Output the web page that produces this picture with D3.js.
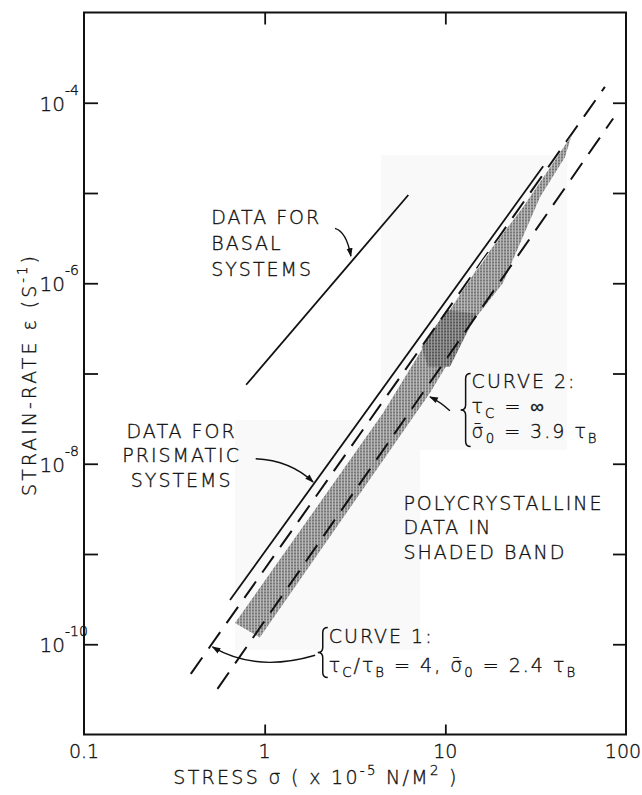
<!DOCTYPE html>
<html>
<head>
<meta charset="utf-8">
<script src="https://cdn.jsdelivr.net/npm/d3@7"></script>
<style>
  body { margin: 0; background: #fff; }
  text { font-family: "DejaVu Sans", sans-serif; font-weight: 300; fill: #111;
         stroke: #111; stroke-width: 0.35px; letter-spacing: 2px; }
</style>
</head>
<body>
<div id="chart"></div>
<script>
// axis ticks
var xTicks = [0.1, 1, 10, 100];
var xTickLabels = ["0.1", "1", "10", "100"];
var innerXTicks = [1, 10];
var yTicks = [1e-10, 1e-9, 1e-8, 1e-7, 1e-6, 1e-5, 1e-4];
var yLabelExps = [-4, -6, -8, -10];

// lines as [stress, strain-rate]
var basal = [[0.79, 7.5e-8], [6.24, 9.5e-6]];
var prismatic = [[0.643, 3.1e-10], [34.8, 1.98e-5]];
var curve1 = [[0.39, 4.7e-11], [76.4, 1.5e-4]];
var curve2 = [[0.548, 3.2e-11], [84.9, 6.7e-5]];

// shaded polycrystalline band (outline)
var band = [[0.685, 1.72e-10], [4.52, 3.64e-8], [7.39, 1.82e-7], [10.6, 5.04e-7], [16.1, 1.8e-6],
            [26.9, 6.97e-6], [39.4, 2.14e-5], [50, 4.36e-5], [45.9, 2.49e-5], [33.4, 8.98e-6],
            [20.8, 1.0e-6], [14.8, 4.2e-7], [12.05, 2.17e-7], [8.22, 6.07e-8], [0.94, 1.19e-10]];
var bandDark = [[7.39, 1.98e-7], [10.17, 5.04e-7], [14.9, 4.63e-7], [10.6, 1.19e-7], [8.01, 1.19e-7]];
// faint paste-up patches behind the band
var patches = [[[4.40, 2.62e-5], [47.1, 1.42e-8]], [[0.685, 3.05e-8], [7.23, 8.65e-11]]];

// annotation arrows: start, control, tip
var basalArrow = [[2.45, 4.06e-6], [2.84, 3.73e-6], [3.0, 2.0e-6]];
var prismArrow = [[0.892, 1.136e-8], [1.39, 1.088e-8], [1.855, 6.27e-9]];
var curve2Arrow = [[10.6, 3.86e-8], [9.46, 4.81e-8], [8.22, 5.52e-8]];
var curve1Arrow = [[1.903, 7.55e-11], [0.896, 4.83e-11], [0.514, 9.33e-11]];

// annotation anchors
var basalAt = [0.506, 4.5e-6];
var prismAt = [0.347, 1.93e-8];
var polyAt = [5.86, 3.05e-9];
var curve2At = [13.98, 6.84e-8];
var curve1At = [2.263, 1.02e-10];

var margin = {top: 12.5, right: 16, bottom: 60.5, left: 84},
    width = 642 - margin.left - margin.right,
    height = 795 - margin.top - margin.bottom;

var svg = d3.select("#chart")
  .append("svg")
    .attr("width", 642)
    .attr("height", 795)
  .append("g")
    .attr("transform", "translate(" + margin.left + "," + margin.top + ")");

var x = d3.scaleLog().domain([0.1, 100]).range([0, width]);
var y = d3.scaleLog().domain([1e-11, 1e-3]).range([height, 0]);

var defs = svg.append("defs");
var pat = defs.append("pattern").attr("id", "stip")
  .attr("width", 3).attr("height", 3).attr("patternUnits", "userSpaceOnUse");
pat.append("rect").attr("width", 3).attr("height", 3).attr("fill", "#bababa");
pat.append("rect").attr("width", 2).attr("height", 2).attr("fill", "#747474");
var pat2 = defs.append("pattern").attr("id", "stipDark")
  .attr("width", 3).attr("height", 3).attr("patternUnits", "userSpaceOnUse");
pat2.append("rect").attr("width", 3).attr("height", 3).attr("fill", "#9a9a9a");
pat2.append("rect").attr("width", 2).attr("height", 2).attr("fill", "#555");

defs.append("marker").attr("id", "head")
  .attr("viewBox", "0 -4 10 8").attr("refX", 9).attr("refY", 0)
  .attr("markerWidth", 9).attr("markerHeight", 7)
  .attr("markerUnits", "userSpaceOnUse").attr("orient", "auto")
  .append("path").attr("d", "M0,-3.5 L10,0 L0,3.5 Z").attr("fill", "#111");

var line = d3.line().x(function(d) { return x(d[0]); }).y(function(d) { return y(d[1]); });

defs.append("clipPath").attr("id", "bandClip")
  .append("path").attr("d", line(band) + "Z");

// faint patches
svg.selectAll(".patch").data(patches).enter().append("rect")
  .attr("class", "patch")
  .attr("x", function(d) { return x(d[0][0]); })
  .attr("y", function(d) { return y(d[0][1]); })
  .attr("width", function(d) { return x(d[1][0]) - x(d[0][0]); })
  .attr("height", function(d) { return y(d[1][1]) - y(d[0][1]); })
  .attr("fill", "#f9f9f9");

// band
svg.append("path").attr("d", line(band) + "Z").attr("fill", "url(#stip)");
svg.append("path").attr("d", line(bandDark) + "Z").attr("fill", "url(#stipDark)");

// solid data lines
[basal, prismatic].forEach(function(l) {
  svg.append("path").attr("d", line(l)).attr("stroke", "#111").attr("stroke-width", 1.8).attr("fill", "none");
});

// theory curves, dashed
[curve1, curve2].forEach(function(l) {
  svg.append("path").attr("d", line(l)).attr("stroke", "#111").attr("stroke-width", 2)
    .attr("stroke-dasharray", "20,11").attr("fill", "none");
});
// curve 1 shows white where it crosses the band
svg.append("path").attr("d", line(curve1)).attr("stroke", "#fff").attr("stroke-width", 2.4)
  .attr("stroke-dasharray", "20,11").attr("fill", "none").attr("clip-path", "url(#bandClip)");

// frame and ticks
svg.append("rect").attr("width", width).attr("height", height)
  .attr("fill", "none").attr("stroke", "#111").attr("stroke-width", 2);

var axes = [
  svg.append("g").call(d3.axisLeft(y).tickValues(yTicks).tickSize(-14).tickFormat("")),
  svg.append("g").attr("transform", "translate(" + width + ",0)")
    .call(d3.axisRight(y).tickValues(yTicks).tickSize(-13).tickFormat("")),
  svg.append("g").call(d3.axisTop(x).tickValues(innerXTicks).tickSize(-12).tickFormat("")),
  svg.append("g").attr("transform", "translate(0," + height + ")")
    .call(d3.axisBottom(x).tickValues(innerXTicks).tickSize(-10).tickFormat(""))
];
axes.forEach(function(a) {
  a.select(".domain").remove();
  a.selectAll("line").attr("stroke", "#111").attr("stroke-width", 1.8);
});

// tick labels
svg.selectAll(".xlab").data(xTicks).enter().append("text")
  .attr("class", "xlab")
  .attr("x", function(d) { return x(d); })
  .attr("dx", function(d, i) { return i === xTicks.length - 1 ? -3 : 0; })
  .attr("y", height + 23)
  .attr("text-anchor", "middle")
  .style("font-size", "19px").style("letter-spacing", "0px")
  .text(function(d, i) { return xTickLabels[i]; });

yLabelExps.forEach(function(e) {
  var yy = y(Math.pow(10, e));
  svg.append("text").attr("x", -19).attr("y", yy + 8).attr("text-anchor", "end")
    .style("font-size", "20px").style("letter-spacing", "0px").text("10");
  svg.append("text").attr("x", -19).attr("y", yy - 8)
    .style("font-size", "14px").style("letter-spacing", "0px").text("-" + Math.abs(e));
});

// text with sub/superscripts
function rich(g, segs, fs) {
  var shift = 0;
  segs.forEach(function(s) {
    var d = s[1] === "sub" ? 5 : (s[1] === "sup" ? -9 : 0);
    g.append("tspan").attr("dy", d - shift)
      .style("font-size", (s[1] ? fs * 0.7 : fs) + "px").text(s[0]);
    shift = d;
  });
}

function block(at, lines, step, anchor) {
  lines.forEach(function(l, i) {
    var t = svg.append("text")
      .attr("x", x(at[0])).attr("y", y(at[1]) + i * step)
      .attr("text-anchor", anchor || "start")
      .style("font-size", "19px");
    if (typeof l === "string") t.text(l); else rich(t, l, 19);
  });
}

block(basalAt, ["DATA FOR", "BASAL", "SYSTEMS"], 25.8);
block(prismAt, ["DATA FOR", "PRISMATIC", "SYSTEMS"], 24.5, "middle");
block(polyAt, ["POLYCRYSTALLINE", "DATA IN", "SHADED BAND"], 24.2);
block(curve2At, ["CURVE 2:", [["τ"], ["C", "sub"], [" = ∞"]],
                 [["σ\u0304"], ["0", "sub"], [" = 3.9 τ"], ["B", "sub"]]], 25);
block(curve1At, ["CURVE 1:", [["τ"], ["C", "sub"], ["/τ"], ["B", "sub"], [" = 4, σ\u0304"], ["0", "sub"], [" = 2.4 τ"], ["B", "sub"]]], 28.4);

// curly braces
function brace(x0, y0, y1) {
  var w = 5, m = (y0 + y1) / 2;
  return "M" + (x0 + w) + "," + y0 + " Q" + x0 + "," + y0 + " " + x0 + "," + (y0 + w) +
    " L" + x0 + "," + (m - w) + " Q" + x0 + "," + m + " " + (x0 - w) + "," + m +
    " Q" + x0 + "," + m + " " + x0 + "," + (m + w) +
    " L" + x0 + "," + (y1 - w) + " Q" + x0 + "," + y1 + " " + (x0 + w) + "," + y1;
}
svg.append("path").attr("d", brace(x(curve2At[0]) - 6, y(curve2At[1]) - 15, y(curve2At[1]) + 58))
  .attr("stroke", "#111").attr("stroke-width", 1.5).attr("fill", "none");
svg.append("path").attr("d", brace(x(curve1At[0]) - 6, y(curve1At[1]) - 16, y(curve1At[1]) + 34))
  .attr("stroke", "#111").attr("stroke-width", 1.5).attr("fill", "none");

// arrows
[basalArrow, prismArrow, curve2Arrow, curve1Arrow].forEach(function(a) {
  var p = a.map(function(d) { return [x(d[0]), y(d[1])]; });
  svg.append("path")
    .attr("d", "M" + p[0] + " Q" + p[1] + " " + p[2])
    .attr("stroke", "#111").attr("stroke-width", 1.4).attr("fill", "none")
    .attr("marker-end", "url(#head)");
});

// axis titles
var xt = svg.append("text").attr("x", 232).attr("y", height + 49)
  .attr("text-anchor", "middle").style("font-size", "19px").style("letter-spacing", "2.3px");
rich(xt, [["STRESS  σ  ( x 10"], ["-5", "sup"], [" N/M"], ["2", "sup"], [" )"]], 19);

var yt = svg.append("text")
  .attr("transform", "translate(-48," + (height / 2 + 1) + ") rotate(-90)")
  .attr("text-anchor", "middle").style("font-size", "19px").style("letter-spacing", "3px");
rich(yt, [["STRAIN-RATE  ε  (S"], ["-1", "sup"], [")"]], 19);
</script>
</body>
</html>
